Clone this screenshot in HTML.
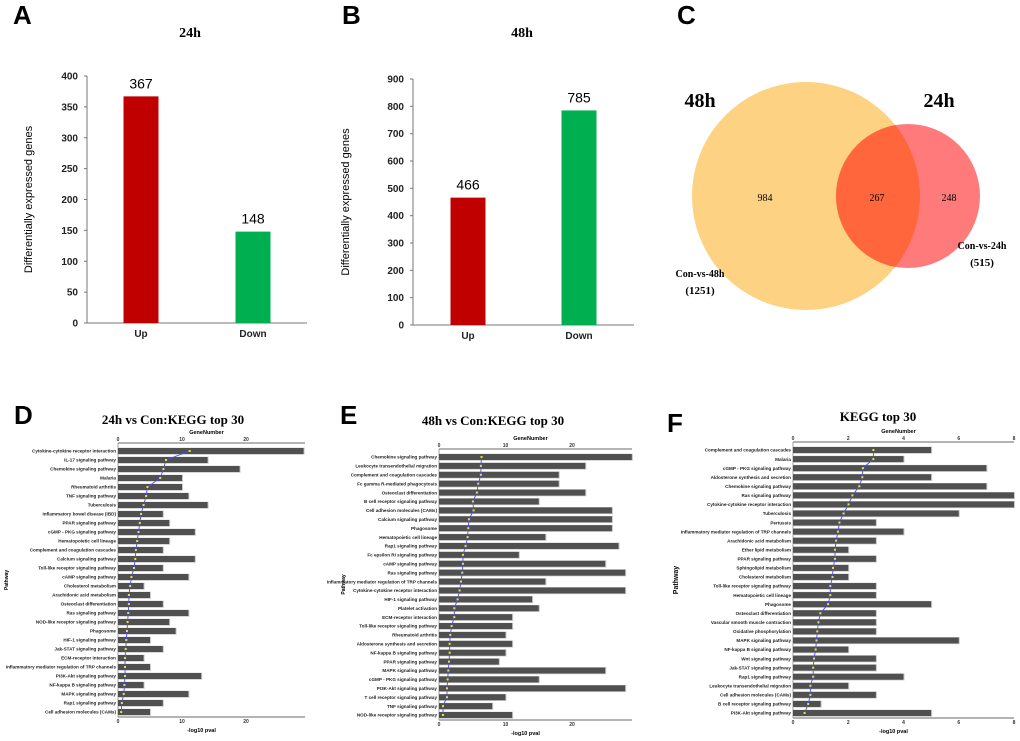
<!DOCTYPE html>
<html><head><meta charset="utf-8"><style>
html,body{margin:0;padding:0;background:#fff;}
svg{display:block;font-family:"Liberation Sans",sans-serif;}
.serif{font-family:"Liberation Serif",serif;font-weight:bold;}
.plab{font-size:26px;font-weight:bold;}
.tk{font-size:10px;font-weight:bold;fill:#222;}
.pw{font-size:4.6px;font-weight:bold;fill:#222;}
.ax{stroke:#777;stroke-width:1;fill:none;}
</style></head><body>
<svg id="fig" width="1020" height="741" viewBox="0 0 1020 741" xmlns="http://www.w3.org/2000/svg">
<g id="top"></g>
<g id="venn">
  <text class="plab" x="677" y="24">C</text>
  <circle cx="806" cy="196" r="114" fill="#fdd283"/>
  <circle cx="908" cy="196" r="72" fill="#ff7b7b"/>
  <clipPath id="cl48"><circle cx="806" cy="196" r="114"/></clipPath>
  <circle cx="908" cy="196" r="72" fill="#ff663c" clip-path="url(#cl48)"/>
  <text class="serif" x="700" y="107" font-size="20" text-anchor="middle">48h</text>
  <text class="serif" x="939" y="107" font-size="20" text-anchor="middle">24h</text>
  <text x="765" y="201" font-size="10" font-family="Liberation Serif" text-anchor="middle">984</text>
  <text x="877" y="201" font-size="10" font-family="Liberation Serif" text-anchor="middle">267</text>
  <text x="949" y="201" font-size="10" font-family="Liberation Serif" text-anchor="middle">248</text>
  <text class="serif" x="700" y="277" font-size="10" text-anchor="middle">Con-vs-48h</text>
  <text class="serif" x="700" y="294" font-size="11" text-anchor="middle">(1251)</text>
  <text class="serif" x="982" y="249" font-size="10" text-anchor="middle">Con-vs-24h</text>
  <text class="serif" x="982" y="266" font-size="11" text-anchor="middle">(515)</text>
</g>
<g id="kegg"></g>
</svg>
<script>
// Panel A/B data
const degCategories = ["Up","Down"];
const deg24 = [367,148];
const deg48 = [466,785];
const ticks24 = [0,50,100,150,200,250,300,350,400];
const ticks48 = [0,100,200,300,400,500,600,700,800,900];

// Panel D data
const dPathways = ["Cytokine-cytokine receptor interaction","IL-17 signaling pathway","Chemokine signaling pathway","Malaria","Rheumatoid arthritis","TNF signaling pathway","Tuberculosis","Inflammatory bowel disease (IBD)","PPAR signaling pathway","cGMP - PKG signaling pathway","Hematopoietic cell lineage","Complement and coagulation cascades","Calcium signaling pathway","Toll-like receptor signaling pathway","cAMP signaling pathway","Cholesterol metabolism","Arachidonic acid metabolism","Osteoclast differentiation","Ras signaling pathway","NOD-like receptor signaling pathway","Phagosome","HIF-1 signaling pathway","Jak-STAT signaling pathway","ECM-receptor interaction","Inflammatory mediator regulation of TRP channels","PI3K-Akt signaling pathway","NF-kappa B signaling pathway","MAPK signaling pathway","Rap1 signaling pathway","Cell adhesion molecules (CAMs)"];
const dGenes = [29,14,19,10,10,11,14,7,8,12,8,7,12,7,11,4,5,7,11,8,9,5,7,4,5,13,4,11,7,5];
const dPval = [11.2,7.5,7.1,6.6,4.6,4.4,4.0,3.6,3.4,3.2,3.0,2.8,2.7,2.5,2.1,1.9,1.7,1.7,1.6,1.5,1.4,1.3,1.2,1.1,1.1,1.1,1.0,0.9,0.6,0.5];
const dTicks = [0,10,20];

// Panel E data
const ePathways = ["Chemokine signaling pathway","Leukocyte transendothelial migration","Complement and coagulation cascades","Fc gamma R-mediated phagocytosis","Osteoclast differentiation","B cell receptor signaling pathway","Cell adhesion molecules (CAMs)","Calcium signaling pathway","Phagosome","Hematopoietic cell lineage","Rap1 signaling pathway","Fc epsilon RI signaling pathway","cAMP signaling pathway","Ras signaling pathway","Inflammatory mediator regulation of TRP channels","Cytokine-cytokine receptor interaction","HIF-1 signaling pathway","Platelet activation","ECM-receptor interaction","Toll-like receptor signaling pathway","Rheumatoid arthritis","Aldosterone synthesis and secretion","NF-kappa B signaling pathway","PPAR signaling pathway","MAPK signaling pathway","cGMP - PKG signaling pathway","PI3K-Akt signaling pathway","T cell receptor signaling pathway","TNF signaling pathway","NOD-like receptor signaling pathway"];
const eGenes = [29,22,18,18,22,15,26,26,26,16,27,12,25,28,16,28,14,15,11,11,10,11,10,9,25,15,28,10,8,11];
const ePval = [6.4,6.3,6.3,5.9,5.7,5.1,5.2,4.5,4.4,4.3,4.0,3.6,3.6,3.5,3.3,3.1,2.8,2.3,2.3,1.9,1.7,1.6,1.6,1.5,1.4,1.3,1.2,1.2,0.6,0.6];
const eTicks = [0,10,20];

// Panel F data
const fPathways = ["Complement and coagulation cascades","Malaria","cGMP - PKG signaling pathway","Aldosterone synthesis and secretion","Chemokine signaling pathway","Ras signaling pathway","Cytokine-cytokine receptor interaction","Tuberculosis","Pertussis","Inflammatory mediator regulation of TRP channels","Arachidonic acid metabolism","Ether lipid metabolism","PPAR signaling pathway","Sphingolipid metabolism","Cholesterol metabolism","Toll-like receptor signaling pathway","Hematopoietic cell lineage","Phagosome","Osteoclast differentiation","Vascular smooth muscle contraction","Oxidative phosphorylation","MAPK signaling pathway","NF-kappa B signaling pathway","Wnt signaling pathway","Jak-STAT signaling pathway","Rap1 signaling pathway","Leukocyte transendothelial migration","Cell adhesion molecules (CAMs)","B cell receptor signaling pathway","PI3K-Akt signaling pathway"];
const fGenes = [5,4,7,5,7,8,8,6,3,4,3,2,3,2,2,3,3,5,3,3,3,6,2,3,3,4,2,3,1,5];
const fPval = [2.91,2.91,2.53,2.51,2.40,2.15,2.01,1.83,1.68,1.63,1.56,1.52,1.52,1.45,1.43,1.35,1.35,1.27,0.99,0.92,0.88,0.85,0.82,0.76,0.73,0.73,0.63,0.63,0.55,0.42];
const fTicks = [0,2,4,6,8];

const NS = "http://www.w3.org/2000/svg";
function mk(parent, tag, attrs, text){
  const e = document.createElementNS(NS, tag);
  for (const k in attrs) e.setAttribute(k, attrs[k]);
  if (text !== undefined) e.textContent = text;
  parent.appendChild(e);
  return e;
}

function barPanel(cfg){
  const g = mk(document.getElementById('top'), 'g', {});
  
  
  const maxV = cfg.ticks[cfg.ticks.length-1];
  const y = v => cfg.y0 - (cfg.y0 - cfg.yTop) * v / maxV;
  const pl = mk(g, 'text', {x: cfg.lx, y: 24, 'class': 'plab'}, cfg.letter);
  
  
  const t = mk(g, 'text', {x: cfg.tx, y: 37, 'class': 'serif', 'font-size': 14, 'text-anchor': 'middle'}, cfg.title);
  
  
  mk(g, 'line', {x1: cfg.ax, y1: cfg.yTop, x2: cfg.ax, y2: cfg.y0, 'class': 'ax'});
  mk(g, 'line', {x1: cfg.ax, y1: cfg.y0, x2: cfg.axR, y2: cfg.y0, 'class': 'ax'});
  cfg.ticks.forEach(v => {
    mk(g, 'line', {x1: cfg.ax-3, y1: y(v), x2: cfg.ax, y2: y(v), 'class': 'ax'});
    const tl = mk(g, 'text', {x: cfg.ax-9, y: y(v)+3.5, 'class': 'tk', 'text-anchor': 'end'}, v);
    
    
  });
  const yl = mk(g, 'text', {x: 0, y: 0, 'font-size': 11, 'text-anchor': 'middle', transform: `translate(${cfg.ylx},${(cfg.yTop+cfg.y0)/2}) rotate(-90)`}, 'Differentially expressed genes');
  
  
  const colors = ['#c00000', '#00b050'];
  cfg.values.forEach((v, i) => {
    const cx = cfg.bx[i];
    const b = mk(g, 'rect', {x: cx-17.5, y: y(v), width: 35, height: cfg.y0 - y(v), fill: colors[i]});
    
    
    const vl = mk(g, 'text', {x: cx, y: y(v)-8, 'font-size': 14, 'text-anchor': 'middle'}, v);
    
    
    const cl = mk(g, 'text', {x: cx, y: cfg.y0+14, 'class': 'tk', 'text-anchor': 'middle'}, degCategories[i]);
    
    
  });
}
barPanel({name:'chart-24h-deg', letter:'A', lx:13, tx:190, title:'24h', ax:87, axR:307, yTop:76, y0:323, ticks:ticks24, values:deg24, bx:[141,253], ylx:32});
barPanel({name:'chart-48h-deg', letter:'B', lx:342, tx:522, title:'48h', ax:413, axR:634, yTop:79, y0:325, ticks:ticks48, values:deg48, bx:[468,579], ylx:349});

function keggPanel(cfg){
  const g = mk(document.getElementById('kegg'), 'g', {});
  
  
  const maxT = cfg.ticks[cfg.ticks.length-1];
  const x = v => cfg.x0 + (cfg.xT - cfg.x0) * v / maxT;
  const n = cfg.paths.length;
  const y = i => cfg.yFirst + (cfg.yLast - cfg.yFirst) * i / (n-1);
  const pl = mk(g, 'text', {x: cfg.lx, y: cfg.ly, 'class': 'plab'}, cfg.letter);
  
  
  const t = mk(g, 'text', {x: cfg.tx, y: cfg.ty, 'class': 'serif', 'font-size': 13, 'text-anchor': 'middle'}, cfg.title);
  
  
  const top = cfg.yFirst - 8, bot = cfg.yLast + 5;
  mk(g, 'line', {x1: cfg.x0, y1: top, x2: cfg.xEnd, y2: top, stroke: '#888', 'stroke-width': 1.2});
  mk(g, 'line', {x1: cfg.x0, y1: bot, x2: cfg.xEnd, y2: bot, stroke: '#888', 'stroke-width': 1.2});
  mk(g, 'line', {x1: cfg.x0, y1: top, x2: cfg.x0, y2: bot, stroke: '#888', 'stroke-width': 0.8});
  cfg.ticks.forEach(v => {
    const a = mk(g, 'text', {x: x(v), y: top-2, 'font-size': 5, 'font-weight': 'bold', 'text-anchor': 'middle', fill: '#333'}, v);
    
    
    const b = mk(g, 'text', {x: x(v), y: bot+6, 'font-size': 5, 'font-weight': 'bold', 'text-anchor': 'middle', fill: '#333'}, v);
    
    
  });
  const gn = mk(g, 'text', {x: (cfg.x0+cfg.xEnd)/2 - 5, y: top-9, 'font-size': 5.5, 'font-weight': 'bold', 'text-anchor': 'middle'}, 'GeneNumber');
  
  
  const xl = mk(g, 'text', {x: (cfg.x0+cfg.xEnd)/2 - 10, y: bot+15, 'font-size': 5.5, 'font-weight': 'bold', 'text-anchor': 'middle'}, '-log10 pval');
  
  
  const yl = mk(g, 'text', {x: 0, y: 0, 'font-size': cfg.pwSize, 'font-weight': 'bold', 'text-anchor': 'middle', transform: `translate(${cfg.pwx},${(top+bot)/2}) rotate(-90)`}, 'Pathway');
  
  
  const pts = [];
  cfg.paths.forEach((p, i) => {
    const sh = mk(g, 'rect', {x: cfg.x0, y: y(i)-3.3, width: x(cfg.genes[i]) - cfg.x0 + 1, height: 7, fill: '#c8c8c8'});
    const b = mk(g, 'rect', {x: cfg.x0, y: y(i)-3, width: x(cfg.genes[i]) - cfg.x0, height: 6, fill: '#505050'});
    
    
    const l = mk(g, 'text', {x: cfg.x0-2, y: y(i)+1.7, 'class': 'pw', 'text-anchor': 'end'}, p);
    
    
    pts.push(x(cfg.pval[i]) + ',' + y(i));
  });
  const line = mk(g, 'polyline', {points: pts.join(' '), fill: 'none', stroke: '#4a4aff', 'stroke-width': 0.9});
  
  
  cfg.pval.forEach((v, i) => {
    const d = mk(g, 'rect', {x: x(v)-1, y: y(i)-1, width: 2, height: 2, fill: '#e6e620'});
    
    
  });
}
keggPanel({name:'kegg-24h', letter:'D', lx:14, ly:424, tx:173, ty:424, title:'24h vs Con:KEGG top 30', paths:dPathways, genes:dGenes, pval:dPval, ticks:dTicks, x0:118, xT:246, xEnd:305, yFirst:451, yLast:712, pwx:8, pwSize:5});
keggPanel({name:'kegg-48h', letter:'E', lx:340, ly:424, tx:493, ty:425, title:'48h vs Con:KEGG top 30', paths:ePathways, genes:eGenes, pval:ePval, ticks:eTicks, x0:439, xT:572, xEnd:632, yFirst:457, yLast:715, pwx:345, pwSize:5});
keggPanel({name:'kegg-common', letter:'F', lx:667, ly:432, tx:878, ty:421, title:'KEGG top 30', paths:fPathways, genes:fGenes, pval:fPval, ticks:fTicks, x0:793, xT:1014, xEnd:1014, yFirst:450, yLast:713, pwx:678, pwSize:7});
</script>
</body></html>
